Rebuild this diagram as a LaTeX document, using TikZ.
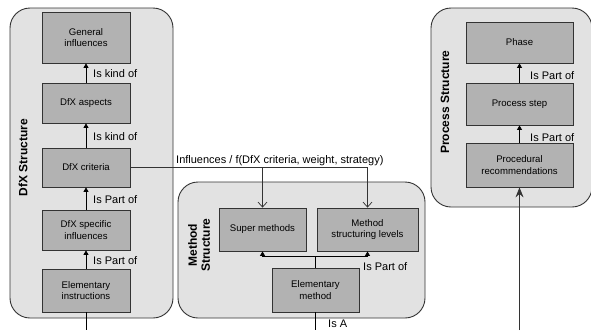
\documentclass[tikz,border=0pt]{standalone}
\usepackage{fontspec}
\setmainfont{Liberation Sans}
\usetikzlibrary{arrows.meta}
\definecolor{panelfill}{HTML}{E2E2E2}
\definecolor{boxfill}{HTML}{B2B2B2}
\definecolor{edge}{HTML}{333333}
\tikzset{
  panel/.style={draw=edge, fill=panelfill, line width=0.9pt, rounded corners=20pt},
  item/.style={draw=edge, fill=boxfill, line width=0.8pt, inner sep=0pt, align=center,
    font=\fontsize{9.6}{11.5}\selectfont},
  title/.style={font=\fontsize{12}{13}\bfseries\selectfont, rotate=90, align=center},
  rel/.style={font=\fontsize{11}{12}\selectfont, inner sep=0pt, anchor=west},
  link/.style={draw=black, line width=0.8pt, -{Triangle[length=4.5pt,width=5pt]}},
  plain/.style={draw=black, line width=0.8pt},
  infl/.style={draw=edge, line width=0.7pt, -{Straight Barb[length=5pt,width=9pt]}},
}
\begin{document}
\begin{tikzpicture}[x=1pt,y=-1pt]
\useasboundingbox (0,0) rectangle (591,330);
\fill[white] (0,0) rectangle (591,330);

% panels
\draw[panel] (10,8) rectangle (173,318);
\draw[panel] (178,182) rectangle (425,318);
\draw[panel] (431,8) rectangle (592,207);

\node[title] (tdfx) at (23,157.5) {DfX Structure};
\node[title] (tmeth) at (199,245) {Method\\Structure};
\node[title] (tproc) at (445,102) {Process Structure};

% DfX structure
\node[item, minimum width=88pt, minimum height=51pt] (gen) at (86,37.5) {General\\influences};
\node[item, minimum width=88pt, minimum height=40pt] (asp) at (86,103) {DfX aspects};
\node[item, minimum width=88pt, minimum height=39pt] (crit) at (86,167.5) {DfX criteria};
\node[item, minimum width=88pt, minimum height=40pt] (spec) at (86,230) {DfX specific\\influences};
\node[item, minimum width=88pt, minimum height=43pt] (elin) at (86,290.5) {Elementary\\instructions};

\draw[link] (asp) -- (gen);
\draw[link] (crit) -- (asp);
\draw[link] (spec) -- (crit);
\draw[link] (elin) -- (spec);
\node[rel] (l1) at (93,74) {Is kind of};
\node[rel] (l2) at (93,137) {Is kind of};
\node[rel] (l3) at (93,200) {Is Part of};
\node[rel] (l4) at (93,261) {Is Part of};

% method structure
\node[item, minimum width=87pt, minimum height=43pt] (sup) at (262.5,229.5) {Super methods};
\node[item, minimum width=101pt, minimum height=43pt] (msl) at (367.5,229.5) {Method\\structuring levels};
\node[item, minimum width=87pt, minimum height=44pt] (elm) at (315.5,290) {Elementary\\method};

\coordinate (j) at (315.5,256);
\draw[plain] (elm.north) -- (j);
\draw[link] (j) -| (sup.south);
\draw[link] (j) -| (msl.south);
\node[rel] (l5) at (363,267) {Is Part of};

% process structure
\node[item, minimum width=107pt, minimum height=41pt] (phase) at (519.5,42.5) {Phase};
\node[item, minimum width=107pt, minimum height=42pt] (pstep) at (519.5,104) {Process step};
\node[item, minimum width=107pt, minimum height=44pt] (proc) at (519.5,165) {Procedural\\recommendations};

\draw[link] (pstep) -- (phase);
\draw[link] (proc) -- (pstep);
\node[rel] (l6) at (530,76) {Is Part of};
\node[rel] (l7) at (530,138) {Is Part of};

% influence of DfX criteria on the methods
\draw[infl] (crit.east) -| (sup.north);
\draw[infl] (crit.east) -| (msl.north);
\node[rel] (l8) at (176,161) {Influences / f(DfX criteria, weight, strategy)};

% links leaving the bottom edge
\coordinate (e1) at (86,330);
\coordinate (e2) at (315.5,330);
\coordinate (e3) at (519.5,330);
\draw[plain] (elin.south) -- (e1);
\draw[plain] (elm.south) -- (e2);
\node[rel] (l9) at (328,324) {Is A};
\draw[draw=edge, line width=0.8pt, -{Stealth[length=10pt,width=8pt,inset=3.5pt]}] (e3) -- (proc.south);
\end{tikzpicture}
\end{document}
